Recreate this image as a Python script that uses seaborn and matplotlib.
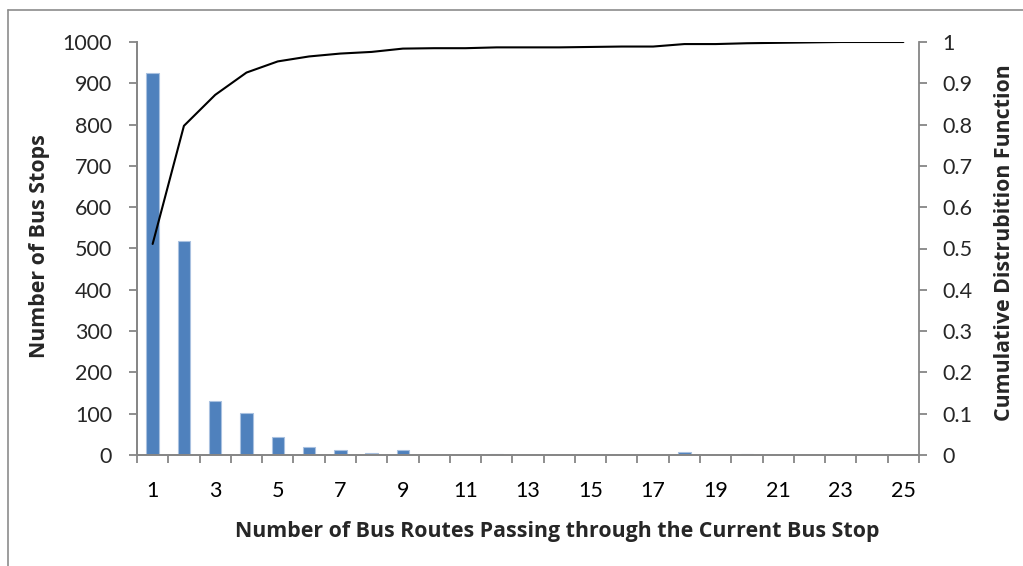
import numpy as np
import pandas as pd
import matplotlib
matplotlib.use("Agg")
import matplotlib.pyplot as plt
from matplotlib.lines import Line2D
import seaborn as sns

# Number of bus routes serving a stop (categories 1..25)
routes = list(range(1, 26))
# Number of bus stops with that many routes
stop_counts = [925, 518, 131, 102, 44, 19, 12, 6, 12, 0, 0, 2, 0,
               0, 0, 0, 0, 7, 0, 2, 0, 0, 0, 0, 0]
# Cumulative distribution function
cdf_values = [0.511, 0.797, 0.872, 0.926, 0.953, 0.965, 0.972, 0.976, 0.984,
              0.985, 0.985, 0.987, 0.987, 0.987, 0.988, 0.989, 0.989, 0.995,
              0.995, 0.997, 0.998, 0.999, 1.0, 1.0, 1.0]
x_tick_labels = [str(v) for v in range(1, 26, 2)]

df = pd.DataFrame({"routes": routes, "stops": stop_counts, "cdf": cdf_values})

sns.set_theme(style="white")
plt.rcParams["font.family"] = ["Lato", "DejaVu Sans"]

W, H = 1023, 566
fig = plt.figure(figsize=(W / 100, H / 100), dpi=100)
ax = fig.add_axes([137 / W, 1 - 455 / H, (919 - 137) / W, (455 - 42) / H])

axis_grey = "#868686"
sns.barplot(data=df, x="routes", y="stops", native_scale=True, width=0.4,
            color="#4F81BD", edgecolor="#A9C1E0", linewidth=0.8,
            saturation=1, ax=ax)
ax.set_xlim(0.5, 25.5)
ax.set_ylim(0, 1000)
ax.set_yticks(range(0, 1001, 100))

ax2 = ax.twinx()
sns.lineplot(data=df, x="routes", y="cdf", color="black", linewidth=1.5, ax=ax2)
ax2.set_ylim(0, 1)
ax2.set_yticks(np.arange(0, 1.01, 0.1))
ax2.set_yticklabels(["0"] + [f"{v:.1f}" for v in np.arange(0.1, 0.95, 0.1)] + ["1"])

# tick marks on category boundaries, labels on odd categories
ax.set_xticks(np.arange(0.5, 25.6, 1.0))
ax.set_xticklabels([])
ax.set_xticks(range(1, 26, 2), minor=True)
ax.set_xticklabels(x_tick_labels, minor=True)
ax.tick_params(axis="x", which="major", direction="out", length=6,
               width=1.3, color=axis_grey, bottom=True)
ax.tick_params(axis="x", which="minor", length=0, pad=19, labelsize=15.5,
               labelcolor="black", bottom=True)
ax.tick_params(axis="y", direction="out", length=6, width=1.3,
               color=axis_grey, pad=12, labelsize=15.5, left=True)
ax2.tick_params(axis="y", direction="out", length=6, width=1.3,
                color=axis_grey, pad=10.5, labelsize=15.5, right=True)

ax.set_xlabel("")
ax.set_ylabel("")
ax2.set_xlabel("")
ax2.set_ylabel("")

for a in (ax, ax2):
    a.grid(False)
    a.spines["top"].set_visible(False)
    for side in ("left", "right", "bottom"):
        a.spines[side].set_color(axis_grey)
        a.spines[side].set_linewidth(1.3)
ax.spines["right"].set_visible(False)

label_font = dict(family=["Open Sans", "DejaVu Sans"], fontweight="bold",
                  fontsize=15.4)
fig.text(557 / W, 1 - 531 / H,
         "Number of Bus Routes Passing through the Current Bus Stop",
         ha="center", va="center", **label_font)
fig.text(40 / W, 1 - 246 / H, "Number of Bus Stops", rotation=90,
         ha="center", va="center", **label_font)
fig.text(1004 / W, 1 - 243 / H, "Cumulative Distrubition Function",
         rotation=90, ha="center", va="center", **label_font)

# outer chart frame
fig.add_artist(Line2D([8 / W, 1.0], [1 - 10 / H, 1 - 10 / H],
                      transform=fig.transFigure, color="#8C8C8C", lw=1.2))
fig.add_artist(Line2D([8 / W, 8 / W], [0.0, 1 - 10 / H],
                      transform=fig.transFigure, color="#8C8C8C", lw=1.2))

fig.savefig("out.png", dpi=100, facecolor="white")
